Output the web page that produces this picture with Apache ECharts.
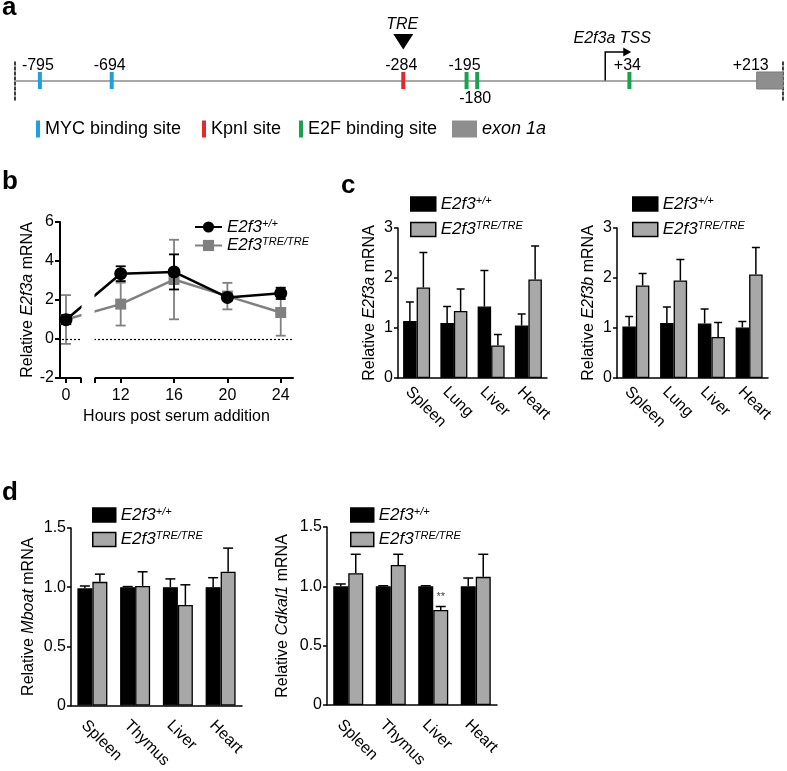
<!DOCTYPE html>
<html><head><meta charset="utf-8">
<script src="https://cdn.jsdelivr.net/npm/echarts@6/dist/echarts.min.js"></script>
<style>html,body{margin:0;padding:0;background:#fff}#c{width:787px;height:771px}</style>
</head><body><div id="c"></div>
<script>
// ---------------- data ----------------
// panel a (promoter map, bp relative to TSS)
const mycSites = [-795, -694];
const mycLabels = ['-795', '-694'];
const kpnSites = [-284];
const kpnLabels = ['-284'];
const e2fSites = [-195, -180, 34];
const e2fLabels = ['-195', '-180', '+34'];
const e2fLabelSide = ['above', 'below', 'above'];
const exonRange = [213, 250];
const exonLabel = '+213';
const trePos = [-284];
const treLabel = 'TRE';
const tssPos = [0];
const tssLabel = 'E2f3a TSS';
const aLegend = ['MYC binding site', 'KpnI site', 'E2F binding site', 'exon 1a'];

// panel b
const hours = [0, 12, 16, 20, 24];
const hourTicks = [0, 12, 16, 20, 24];
const hourBreak = [1.125, 10.02];
const hourRange = [-0.45, 24.92];
const wtMean = [0.99, 3.35, 3.44, 2.13, 2.34];
const wtErr = [0.23, 0.38, 0.90, 0.10, 0.29];
const treMean = [1.00, 1.79, 3.05, 2.20, 1.36];
const treErr = [1.25, 1.10, 2.04, 0.68, 1.19];

// panel c
const cTissues = ['Spleen', 'Lung', 'Liver', 'Heart'];
const e2f3aWt = [1.14, 1.10, 1.43, 1.05];
const e2f3aWtErr = [0.38, 0.33, 0.72, 0.23];
const e2f3aTre = [1.81, 1.34, 0.65, 1.97];
const e2f3aTreErr = [0.70, 0.44, 0.22, 0.67];
const e2f3bWt = [1.03, 1.10, 1.09, 1.01];
const e2f3bWtErr = [0.20, 0.32, 0.29, 0.12];
const e2f3bTre = [1.85, 1.95, 0.82, 2.07];
const e2f3bTreErr = [0.24, 0.42, 0.29, 0.54];

// panel d
const dTissues = ['Spleen', 'Thymus', 'Liver', 'Heart'];
const mboatWt = [0.99, 1.00, 1.00, 1.00];
const mboatWtErr = [0.02, 0.005, 0.07, 0.08];
const mboatTre = [1.045, 1.01, 0.85, 1.13];
const mboatTreErr = [0.065, 0.12, 0.17, 0.20];
const cdkalWt = [1.00, 1.00, 1.00, 1.00];
const cdkalWtErr = [0.02, 0.005, 0.005, 0.07];
const cdkalTre = [1.11, 1.18, 0.80, 1.08];
const cdkalTreErr = [0.16, 0.09, 0.03, 0.19];
const cdkalSig = ['', '', '**', ''];

// ---------------- styling / helpers ----------------
const F = '"Liberation Sans", Arial, Helvetica, sans-serif';
const WT = 'E2f3+/+', TRE = 'E2f3TRE/TRE';
const GRAYBAR = '#a8a8a8', GRAYLINE = '#808080';
const legRich = {
  i: {fontFamily: F, fontSize: 17, fontStyle: 'italic', color: '#000', lineHeight: 18},
  s: {fontFamily: F, fontSize: 11, fontStyle: 'italic', color: '#000', lineHeight: 11, verticalAlign: 'top'}
};
const legFmt = n => n === WT ? '{i|E2f3}{s|+/+}' : '{i|E2f3}{s|TRE/TRE}';
const nameRich = {
  n: {fontFamily: F, fontSize: 16, color: '#000'},
  i: {fontFamily: F, fontSize: 16, fontStyle: 'italic', color: '#000'}
};
const yName = g => '{n|Relative }{i|' + g + '}{n| mRNA}';

function errRender(offset, cap, both, color, lw) {
  return function (params, api) {
    const x = api.value(0), m = api.value(1), e = api.value(2);
    const pt = api.coord([x, m + e]);
    const pb = api.coord([x, both ? m - e : m]);
    const cx = pt[0] + offset;
    const st = {stroke: color, lineWidth: lw};
    const ch = [
      {type: 'line', shape: {x1: cx, y1: pt[1], x2: cx, y2: pb[1]}, style: st},
      {type: 'line', shape: {x1: cx - cap / 2, y1: pt[1], x2: cx + cap / 2, y2: pt[1]}, style: st}
    ];
    if (both) ch.push({type: 'line', shape: {x1: cx - cap / 2, y1: pb[1], x2: cx + cap / 2, y2: pb[1]}, style: st});
    return {type: 'group', children: ch};
  };
}

const opt = {
  animation: false,
  backgroundColor: '#fff',
  title: [
    {text: 'a', left: 2, top: -5, padding: 0, textStyle: {fontFamily: F, fontSize: 26, fontWeight: 'bold', color: '#000'}},
    {text: 'b', left: 2, top: 169, padding: 0, textStyle: {fontFamily: F, fontSize: 26, fontWeight: 'bold', color: '#000'}},
    {text: 'c', left: 341, top: 173, padding: 0, textStyle: {fontFamily: F, fontSize: 26, fontWeight: 'bold', color: '#000'}},
    {text: 'd', left: 2, top: 480, padding: 0, textStyle: {fontFamily: F, fontSize: 26, fontWeight: 'bold', color: '#000'}}
  ],
  grid: [], xAxis: [], yAxis: [], series: [], legend: []
};

// ---------------- panel a ----------------
opt.grid.push({left: 15, top: 61, width: 768, height: 39});
opt.xAxis.push({type: 'value', gridIndex: 0, min: -830, max: 250,
  axisLine: {onZero: true, lineStyle: {color: '#8c8c8c', width: 1.5}},
  axisTick: {show: false}, axisLabel: {show: false}, splitLine: {show: false}});
opt.yAxis.push({type: 'value', gridIndex: 0, min: -1, max: 1,
  axisLine: {show: true, onZero: false, lineStyle: {color: '#000', width: 1.5, type: [3, 2]}},
  axisTick: {show: false}, axisLabel: {show: false}, splitLine: {show: false}});
opt.yAxis.push({type: 'value', gridIndex: 0, min: -1, max: 1, position: 'right',
  axisLine: {show: true, onZero: false, lineStyle: {color: '#000', width: 1.5, type: [3, 2]}},
  axisTick: {show: false}, axisLabel: {show: false}, splitLine: {show: false}});

function siteSeries(name, color, pos, labels, sides) {
  return {
    type: 'custom', name: name, xAxisIndex: 0, yAxisIndex: 0, z: 5, silent: true,
    itemStyle: {color: color},
    data: pos.map(p => [p, 0]),
    renderItem: function (params, api) {
      const p = api.coord([api.value(0), 0]);
      const i = params.dataIndex;
      const below = sides && sides[i] === 'below';
      return {type: 'group', children: [
        {type: 'rect', shape: {x: p[0] - 2, y: p[1] - 8.5, width: 4, height: 17}, style: {fill: color}},
        {type: 'text', x: p[0] - 2, y: below ? p[1] + 18 : p[1] - 15,
          style: {text: labels[i], fontFamily: F, fontSize: 16, fill: '#000', align: 'center', verticalAlign: 'middle'}}
      ]};
    }
  };
}
opt.series.push(siteSeries(aLegend[0], '#1ea0dc', mycSites, mycLabels, null));
opt.series.push(siteSeries(aLegend[1], '#e0282d', kpnSites, kpnLabels, null));
opt.series.push(siteSeries(aLegend[2], '#17a24c', e2fSites, e2fLabels, e2fLabelSide));
opt.series.push({
  type: 'custom', name: aLegend[3], xAxisIndex: 0, yAxisIndex: 0, z: 4, silent: true,
  itemStyle: {color: '#8e8e8e'},
  data: [exonRange],
  renderItem: function (params, api) {
    const p0 = api.coord([api.value(0), 0]), p1 = api.coord([api.value(1), 0]);
    return {type: 'group', children: [
      {type: 'rect', shape: {x: p0[0], y: p0[1] - 8.5, width: p1[0] - p0[0], height: 17}, style: {fill: '#8e8e8e', stroke: '#7a7a7a', lineWidth: 1}},
      {type: 'text', x: p0[0] - 6, y: p0[1] - 15,
        style: {text: exonLabel, fontFamily: F, fontSize: 16, fill: '#000', align: 'center', verticalAlign: 'middle'}}
    ]};
  }
});
opt.series.push({
  type: 'custom', xAxisIndex: 0, yAxisIndex: 0, z: 5, silent: true,
  data: trePos.map(p => [p, 0]),
  renderItem: function (params, api) {
    const p = api.coord([api.value(0), 0]);
    return {type: 'group', children: [
      {type: 'polygon', shape: {points: [[p[0] - 10, p[1] - 46.5], [p[0] + 10, p[1] - 46.5], [p[0], p[1] - 31]]}, style: {fill: '#000'}},
      {type: 'text', x: p[0] - 1, y: p[1] - 55.5,
        style: {text: treLabel, fontFamily: F, fontSize: 16, fontStyle: 'italic', fill: '#000', align: 'center', verticalAlign: 'middle'}}
    ]};
  }
});
opt.series.push({
  type: 'custom', xAxisIndex: 0, yAxisIndex: 0, z: 5, silent: true,
  data: tssPos.map(p => [p, 0]),
  renderItem: function (params, api) {
    const p = api.coord([api.value(0), 0]);
    const x = p[0], y = p[1];
    return {type: 'group', children: [
      {type: 'polyline', shape: {points: [[x, y], [x, y - 28.5], [x + 19, y - 28.5]]}, style: {stroke: '#000', lineWidth: 1.5, fill: null}},
      {type: 'polygon', shape: {points: [[x + 18, y - 33], [x + 26, y - 28.5], [x + 18, y - 24]]}, style: {fill: '#000'}},
      {type: 'text', x: x + 7, y: y - 42,
        style: {text: tssLabel, fontFamily: F, fontSize: 16, fontStyle: 'italic', fill: '#000', align: 'center', verticalAlign: 'middle'}}
    ]};
  }
});
const aLegLeft = [36, 202, 299, 452];
aLegend.forEach((n, k) => {
  opt.legend.push({left: aLegLeft[k], top: 120, padding: 0, selectedMode: false,
    itemWidth: k === 3 ? 25 : 4, itemHeight: 17,
    data: [{name: n, icon: 'rect'}],
    textStyle: {fontFamily: F, fontSize: 18, color: '#000', fontStyle: k === 3 ? 'italic' : 'normal'}});
});

// ---------------- panel b ----------------
opt.grid.push({left: 60, top: 222, width: 233, height: 156});
opt.xAxis.push({type: 'value', gridIndex: 1, min: hourRange[0], max: hourRange[1],
  breaks: [{start: hourBreak[0], end: hourBreak[1], gap: '5.7%'}],
  breakArea: {show: true, itemStyle: {color: '#fff', borderColor: '#fff', borderWidth: 0, opacity: 1}, zigzagAmplitude: 0, expandOnClick: false},
  axisLine: {onZero: false, lineStyle: {color: '#000', width: 2}},
  axisTick: {customValues: [0, hourBreak[0], hourBreak[1], 12, 16, 20, 24], length: 5, lineStyle: {color: '#000', width: 2}},
  axisLabel: {customValues: hourTicks, fontFamily: F, fontSize: 16, color: '#000', margin: 10},
  splitLine: {show: false},
  name: 'Hours post serum addition', nameLocation: 'middle', nameGap: 31,
  nameTextStyle: {fontFamily: F, fontSize: 16, color: '#000'}});
opt.yAxis.push({type: 'value', gridIndex: 1, min: -2, max: 6, interval: 2,
  axisLine: {show: true, onZero: false, lineStyle: {color: '#000', width: 2}},
  axisTick: {show: true, length: 5, lineStyle: {width: 2}},
  axisLabel: {fontFamily: F, fontSize: 16, color: '#000', margin: 6},
  splitLine: {show: false},
  name: yName('E2f3a'), nameLocation: 'middle', nameRotate: 90, nameGap: 21,
  nameTextStyle: {rich: nameRich}});
opt.series.push({type: 'line', name: TRE, xAxisIndex: 1, yAxisIndex: 2,
  data: hours.map((h, i) => [h, treMean[i]]),
  symbol: 'rect', symbolSize: 11, lineStyle: {color: GRAYLINE, width: 2.5}, itemStyle: {color: GRAYLINE}, z: 3,
  markLine: {silent: true, symbol: 'none', label: {show: false}, lineStyle: {color: '#000', type: [2, 2], width: 1.2},
    data: [[{coord: [hourRange[0] + 0.15, 0]}, {coord: [hourRange[1], 0]}]]}});
opt.series.push({type: 'custom', xAxisIndex: 1, yAxisIndex: 2, z: 2, silent: true,
  data: hours.map((h, i) => [h, treMean[i], treErr[i]]),
  renderItem: errRender(0, 10, true, GRAYLINE, 1.8)});
opt.series.push({type: 'line', name: WT, xAxisIndex: 1, yAxisIndex: 2,
  data: hours.map((h, i) => [h, wtMean[i]]),
  symbol: 'circle', symbolSize: 13, lineStyle: {color: '#000', width: 2.5}, itemStyle: {color: '#000'}, z: 5});
opt.series.push({type: 'custom', xAxisIndex: 1, yAxisIndex: 2, z: 4, silent: true,
  data: hours.map((h, i) => [h, wtMean[i], wtErr[i]]),
  renderItem: errRender(0, 10, true, '#000', 1.8)});
opt.legend.push({left: 194, top: 218, orient: 'vertical', padding: 0, selectedMode: false,
  itemWidth: 27, itemHeight: 14, itemGap: 1, data: [WT, TRE], formatter: legFmt, textStyle: {rich: legRich}});

// ---------------- bar panels ----------------
function barPanel(cats, wt, wtE, tre, treE, cfg) {
  const gi = opt.grid.length;
  opt.grid.push({left: cfg.left, top: cfg.top, width: cfg.width, height: cfg.height});
  const xi = opt.xAxis.length, yi = opt.yAxis.length;
  opt.xAxis.push({type: 'category', gridIndex: gi, data: cats,
    axisLine: {lineStyle: {color: '#000', width: 1.5}},
    axisTick: {alignWithLabel: true, length: 4, lineStyle: {width: 1.5}},
    axisLabel: {rotate: -45, fontFamily: F, fontSize: 16, color: '#000', margin: cfg.labMargin, interval: 0,
      verticalAlign: 'top', padding: [4, 0, 0, 0]}});
  opt.yAxis.push({type: 'value', gridIndex: gi, min: 0, max: cfg.max, interval: cfg.interval,
    axisLine: {show: true, onZero: false, lineStyle: {color: '#000', width: 1.5}},
    axisTick: {show: true, length: 4, lineStyle: {width: 1.5}},
    splitLine: {show: false},
    axisLabel: {fontFamily: F, fontSize: 16, color: '#000', margin: 5, formatter: cfg.fmt},
    name: yName(cfg.gene), nameLocation: 'middle', nameRotate: 90, nameGap: cfg.nameGap,
    nameTextStyle: {rich: nameRich}});
  const bw = cfg.bw;
  opt.series.push({type: 'bar', name: WT, xAxisIndex: xi, yAxisIndex: yi, data: wt, barWidth: bw, barGap: '0%',
    itemStyle: {color: '#000', borderColor: '#000', borderWidth: 1.3}, z: 3});
  opt.series.push({type: 'bar', name: TRE, xAxisIndex: xi, yAxisIndex: yi,
    data: tre.map((v, i) => (cfg.sig && cfg.sig[i]) ? {value: v, label: {show: true, position: 'top', distance: 8,
      formatter: cfg.sig[i], fontSize: 11, color: '#444', fontFamily: F}} : v),
    barWidth: bw, barGap: '0%', itemStyle: {color: GRAYBAR, borderColor: '#000', borderWidth: 1.3}, z: 3});
  opt.series.push({type: 'custom', xAxisIndex: xi, yAxisIndex: yi, z: 2, silent: true,
    data: wt.map((v, i) => [i, v, wtE[i]]), renderItem: errRender(-bw / 2, cfg.cap, false, '#000', 1.5)});
  opt.series.push({type: 'custom', xAxisIndex: xi, yAxisIndex: yi, z: 2, silent: true,
    data: tre.map((v, i) => [i, v, treE[i]]), renderItem: errRender(bw / 2, cfg.cap, false, '#000', 1.5)});
  opt.legend.push({left: cfg.legLeft, top: cfg.legTop, orient: 'vertical', padding: 0, selectedMode: false,
    itemWidth: cfg.legW, itemHeight: 14, itemGap: cfg.legGap,
    data: [
      {name: WT, icon: 'rect', itemStyle: {color: '#000', borderColor: '#000', borderWidth: 1.5}},
      {name: TRE, icon: 'rect', itemStyle: {color: GRAYBAR, borderColor: '#000', borderWidth: 1.5}}
    ],
    formatter: legFmt, textStyle: {rich: legRich}});
}
const fmtD = v => v === 0 ? '0' : v.toFixed(1);
barPanel(cTissues, e2f3aWt, e2f3aWtErr, e2f3aTre, e2f3aTreErr,
  {left: 398, top: 228, width: 149, height: 150, max: 3, interval: 1, gene: 'E2f3a', nameGap: 20, bw: 13.5, cap: 8,
   legLeft: 410, legTop: 195, legW: 25, legGap: 8, labMargin: 3});
barPanel(cTissues, e2f3bWt, e2f3bWtErr, e2f3bTre, e2f3bTreErr,
  {left: 617, top: 228, width: 151, height: 150, max: 3, interval: 1, gene: 'E2f3b', nameGap: 20, bw: 13.5, cap: 8,
   legLeft: 632, legTop: 195, legW: 25, legGap: 8, labMargin: 3});
barPanel(dTissues, mboatWt, mboatWtErr, mboatTre, mboatTreErr,
  {left: 71, top: 528, width: 171, height: 179, max: 1.5, interval: 0.5, gene: 'Mboat', nameGap: 34, bw: 15, cap: 10,
   legLeft: 92, legTop: 506, legW: 23, legGap: 7, fmt: fmtD, labMargin: 9});
barPanel(dTissues, cdkalWt, cdkalWtErr, cdkalTre, cdkalTreErr,
  {left: 327, top: 527, width: 170, height: 178, max: 1.5, interval: 0.5, gene: 'Cdkal1', nameGap: 36, bw: 15, cap: 10,
   legLeft: 350, legTop: 506, legW: 23, legGap: 7, fmt: fmtD, sig: cdkalSig, labMargin: 9});

const chart = echarts.init(document.getElementById('c'), null, {renderer: 'canvas'});
chart.setOption(opt);
</script></body></html>
